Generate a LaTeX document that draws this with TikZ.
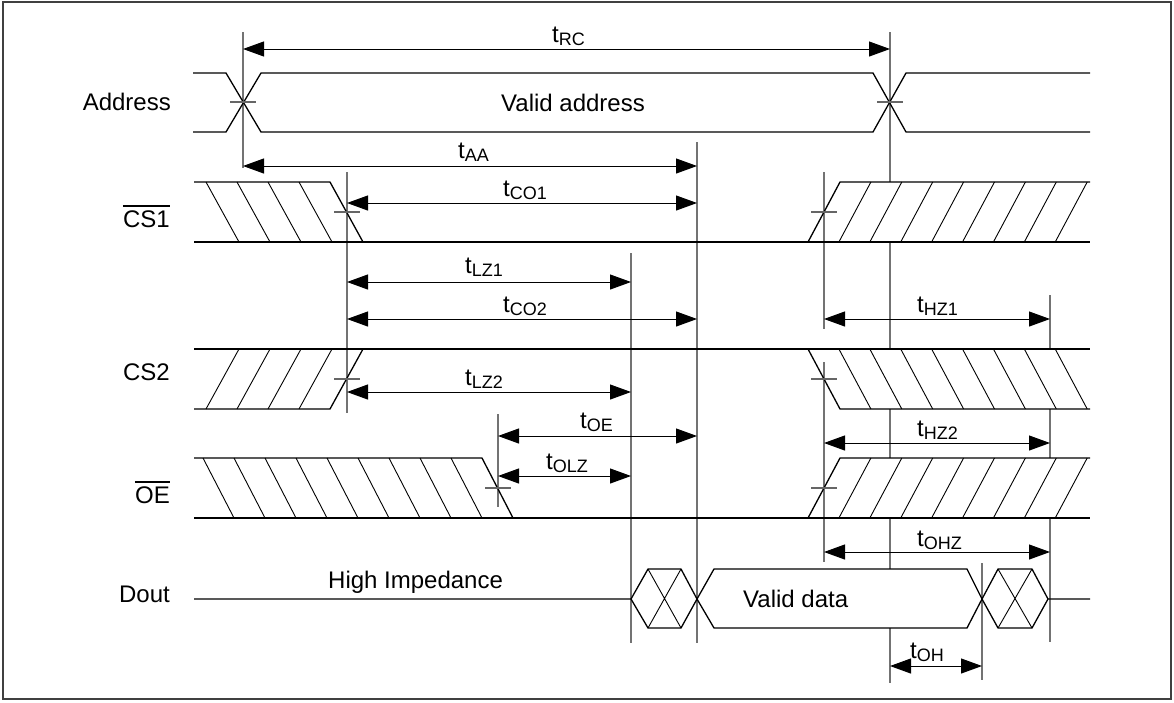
\documentclass[tikz,border=0pt]{standalone}
\usepackage{fontspec}
\setmainfont{Liberation Sans}
\usetikzlibrary{arrows.meta}
\newcommand{\tsub}[1]{t\raisebox{-3.5pt}{\fontsize{18}{18}\selectfont #1}}
\begin{document}
\begin{tikzpicture}[x=1pt,y=-1pt,
  sig/.style={line width=1.3pt,black,line join=miter},
  hatch/.style={line width=0.9pt,black},
  vline/.style={line width=1.3pt,black!55},
  tick/.style={line width=1.1pt,black!60},
  dim/.style={line width=1pt,black,{Triangle[length=21pt,width=15pt]}-{Triangle[length=21pt,width=15pt]}},
  lbl/.style={inner sep=0pt,font=\fontsize{24}{28}\selectfont},
  tlbl/.style={inner sep=0pt,anchor=base west,font=\fontsize{24}{28}\selectfont}]
\useasboundingbox (0,0) rectangle (1174,702);
\draw[line width=1.2pt,black!75] (3,2) rectangle (1171,699);

% ---------- vertical reference lines ----------
\draw[vline] (243,32) -- (243,168);
\draw[vline] (890,32) -- (890,182) (890,242) -- (890,349) (890,409) -- (890,458) (890,518) -- (890,569) (890,628) -- (890,683);
\draw[vline] (697,142) -- (697,643);
\draw[vline] (347,172) -- (347,413);
\draw[vline] (631,253) -- (631,643);
\draw[vline] (824,172) -- (824,329) (824,362) -- (824,562);
\draw[vline] (1050,295) -- (1050,349) (1050,409) -- (1050,458) (1050,518) -- (1050,642);
\draw[vline] (498,414) -- (498,507);
\draw[vline] (982,563) -- (982,680);

% ---------- Address ----------
\draw[sig] (193,73) -- (226,73) -- (261,132) -- (873,132) -- (906,73) -- (1090,73);
\draw[sig] (193,132) -- (226,132) -- (261,73) -- (873,73) -- (906,132) -- (1090,132);

% ---------- CS1 ----------
\draw[sig] (194,182) -- (330,182) -- (363,242);
\draw[sig] (194,242) -- (1090,242);
\draw[sig] (808,242) -- (840,182) -- (1090,182);
\foreach \k in {1,...,4} \draw[hatch] ({330-31*\k},182) -- ({363-31*\k},242);
\foreach \k in {1,...,8} \draw[hatch] ({808+30.9*\k},242) -- ({840+30.9*\k},182);

% ---------- CS2 ----------
\draw[sig] (194,409) -- (330,409) -- (363,349);
\draw[sig] (194,349) -- (1090,349);
\draw[sig] (808,349) -- (840,409) -- (1090,409);
\foreach \k in {1,...,4} \draw[hatch] ({330-31*\k},409) -- ({363-31*\k},349);
\foreach \k in {1,...,8} \draw[hatch] ({808+30.9*\k},349) -- ({840+30.9*\k},409);

% ---------- OE ----------
\draw[sig] (194,458) -- (482,458) -- (513,518);
\draw[sig] (194,518) -- (1090,518);
\draw[sig] (808,518) -- (840,458) -- (1090,458);
\foreach \k in {1,...,9} \draw[hatch] ({482-31*\k},458) -- ({513-31*\k},518);
\foreach \k in {1,...,8} \draw[hatch] ({808+30.9*\k},518) -- ({840+30.9*\k},458);

% ---------- Dout ----------
\draw[sig] (194,599) -- (631,599) -- (648,569) -- (681,569) -- (697,599) -- (714,569) -- (967,569) -- (982,599) -- (998,569) -- (1032,569) -- (1048,599) -- (1090,599);
\draw[sig] (631,599) -- (648,628) -- (681,628) -- (697,599) -- (714,628) -- (967,628) -- (982,599) -- (998,628) -- (1032,628) -- (1048,599);
\draw[hatch] (648,569) -- (681,628) (681,569) -- (648,628);
\draw[hatch] (998,569) -- (1032,628) (1032,569) -- (998,628);

% ---------- crossing ticks ----------
\foreach \x/\y in {243/102,890/102,347/212,824/212,347/379,824/379,498/488,824/488}
  \draw[tick] (\x-13,\y) -- (\x+13,\y);

% ---------- timing arrows ----------
\draw[dim] (243,49) -- (890,49);
\draw[dim] (243,166) -- (697,166);
\draw[dim] (347,203) -- (697,203);
\draw[dim] (347,282) -- (631,282);
\draw[dim] (347,319) -- (697,319);
\draw[dim] (824,319) -- (1050,319);
\draw[dim] (347,392) -- (631,392);
\draw[dim] (498,436) -- (697,436);
\draw[dim] (824,443) -- (1050,443);
\draw[dim] (498,476) -- (631,476);
\draw[dim] (824,552) -- (1050,552);
\draw[dim] (890,666) -- (982,666);

% ---------- timing labels ----------
\node[tlbl] (lrc)  at (552,42)  {\tsub{RC}};
\node[tlbl] (laa)  at (458,158) {\tsub{AA}};
\node[tlbl] (lco1) at (503,196) {\tsub{CO1}};
\node[tlbl] (llz1) at (465,273) {\tsub{LZ1}};
\node[tlbl] (lco2) at (503,312) {\tsub{CO2}};
\node[tlbl] (lhz1) at (917,312) {\tsub{HZ1}};
\node[tlbl] (llz2) at (465,385) {\tsub{LZ2}};
\node[tlbl] (loe)  at (580,428) {\tsub{OE}};
\node[tlbl] (lhz2) at (917,436) {\tsub{HZ2}};
\node[tlbl] (lolz) at (546,469) {\tsub{OLZ}};
\node[tlbl] (lohz) at (917,546) {\tsub{OHZ}};
\node[tlbl] (loh)  at (910,658) {\tsub{OH}};

% ---------- signal names ----------
\node[lbl,anchor=base east] (naddr) at (171,110) {Address};
\node[lbl,anchor=base east] (ncs1)  at (170,227) {CS1};
\node[lbl,anchor=base east] (ncs2)  at (170,380) {CS2};
\node[lbl,anchor=base east] (noe)   at (170,503) {OE};
\node[lbl,anchor=base east] (ndout) at (170,602) {Dout};
\draw[line width=1.2pt] ([yshift=4pt]ncs1.north west) -- ([yshift=4pt]ncs1.north east);
\draw[line width=1.2pt] ([yshift=4pt]noe.north west) -- ([yshift=4pt]noe.north east);

% ---------- texts in waveforms ----------
\node[lbl,anchor=base] (tva) at (573,111) {Valid address};
\node[lbl,anchor=base west] (thi) at (328,588) {High Impedance};
\node[lbl,anchor=base west] (tvd) at (743,607) {Valid data};
\end{tikzpicture}
\end{document}
